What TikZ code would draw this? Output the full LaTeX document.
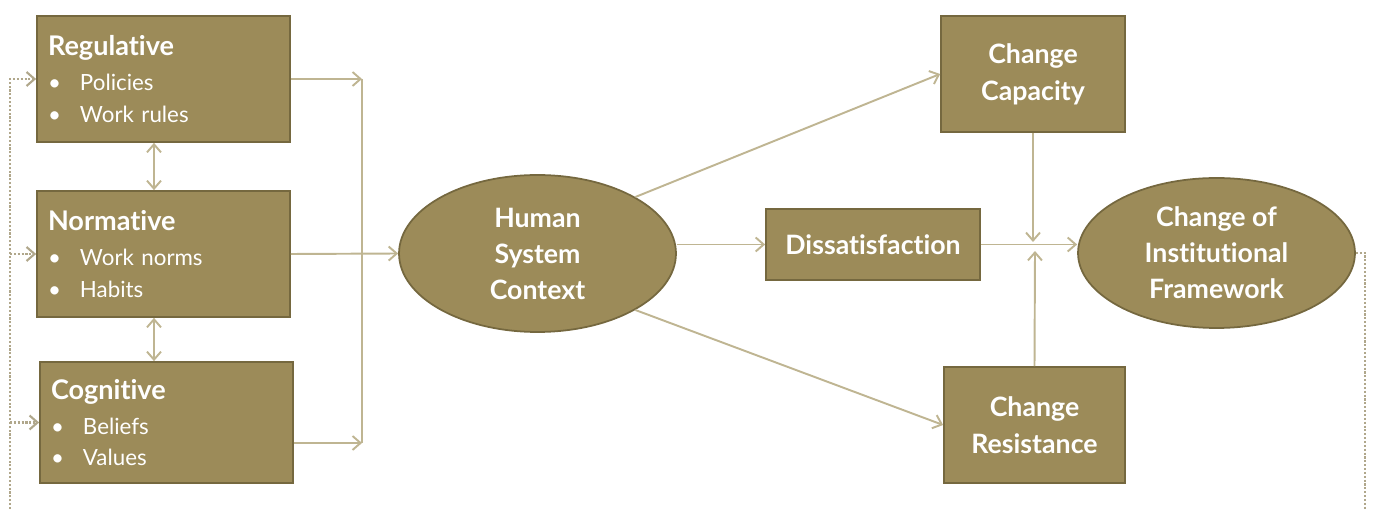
\documentclass[tikz,border=0pt]{standalone}
\usepackage{fontspec}
\setmainfont{Lato}[Ligatures={NoCommon,NoRare}]
\usetikzlibrary{shapes.geometric,arrows.meta}
\definecolor{khaki}{HTML}{9C8B59}
\definecolor{khakiedge}{HTML}{75683F}
\definecolor{linkline}{HTML}{BFB592}
\definecolor{loopline}{HTML}{B0A78B}

\begin{document}
\begin{tikzpicture}[x=0.02cm,y=-0.02cm,
	>={Straight Barb[length=1.6mm,width=2.8mm]},
	box/.style={draw=khakiedge,line width=1pt,fill=khaki,text=white,inner sep=0pt},
	pillar/.style={box,minimum width=5.06cm,minimum height=2.52cm,text width=4.62cm,inner xsep=0.22cm,align=left,font=\fontsize{12.7}{18}\selectfont},
	stage/.style={box,minimum width=3.68cm,minimum height=2.32cm,align=center,font=\bfseries\fontsize{15.2}{21}\selectfont},
	oval/.style={box,ellipse,minimum width=5.54cm,minimum height=3.14cm,align=center,font=\bfseries\fontsize{15.2}{20.5}\selectfont},
	link/.style={draw=linkline,line width=1.1pt},
	feedback/.style={draw=loopline,line width=1.2pt,densely dotted}]
	\def\head#1{{\bfseries\fontsize{15.4}{18}\selectfont #1}}
	\def\itm#1{\makebox[0.64cm][l]{\textbullet}#1}

	\useasboundingbox (0,0) rectangle (1373,509);

	\node[pillar] (reg) at (163.5,79) {\head{Regulative}\\[2pt] \itm{Policies}\\ \itm{Work rules}};
	\node[pillar] (nor) at (163.5,254) {\head{Normative}\\[2pt] \itm{Work norms}\\ \itm{Habits}};
	\node[pillar,minimum height=2.42cm] (cog) at (166.5,422.5) {\head{Cognitive}\\[2pt] \itm{Beliefs}\\ \itm{Values}};

	\node[oval] (hsc) at (537.5,253.5) {Human\\System\\Context};
	\node[stage,minimum width=4.28cm,minimum height=1.42cm] (dis) at (873,244.5) {Dissatisfaction};
	\node[stage] (cap) at (1033,74) {Change\\Capacity};
	\node[stage,minimum width=3.62cm] (res) at (1034.5,425) {Change\\Resistance};
	\node[oval,minimum height=3cm] (cif) at (1216.5,253) {Change of\\Institutional\\Framework};

	\coordinate (pair) at (154,0);
	\coordinate (jtop) at (362,79);
	\coordinate (jbot) at (362,443);
	\coordinate (capend) at (1033,242);
	\coordinate (resend) at (1035,251);
	\coordinate (fbL) at (10,509);
	\coordinate (fbR) at (1365,509);

	\draw[link,<->] (reg.south -| pair) -- (nor.north -| pair);
	\draw[link,<->] (nor.south -| pair) -- (cog.north -| pair);

	\draw[link,->] (reg.east) -- (jtop);
	\draw[link,->] (cog.east |- jbot) -- (jbot);
	\draw[link] (jtop) -- (jbot);
	\draw[link,->] (nor.east) -- (hsc.west);

	\draw[link,->] (hsc.30) -- (cap.west);
	\draw[link,->] (hsc.-30) -- (res.west);
	\draw[link,->] (hsc.east |- dis.west) -- (dis.west);
	\draw[link,->] (dis.east) -- (dis.east -| cif.west);
	\draw[link,->] (cap.south) -- (capend);
	\draw[link,->] (res.north) -- (resend);

	\draw[feedback] (cif.east) -| (fbR);
	\draw[feedback,->] (fbL) |- (reg.west);
	\draw[feedback,->] (fbL |- nor.west) -- (nor.west);
	\draw[feedback,->] (fbL |- cog.west) -- (cog.west);
\end{tikzpicture}
\end{document}
